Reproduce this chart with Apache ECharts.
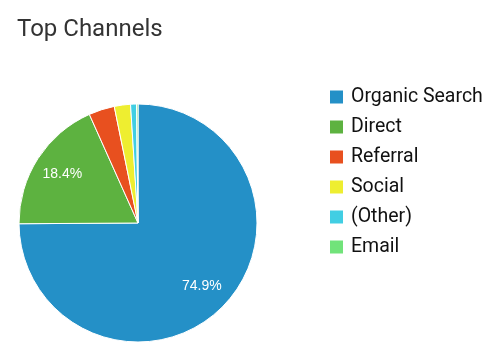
<!DOCTYPE html>
<html>
<head>
<meta charset="utf-8">
<script src="https://cdn.jsdelivr.net/npm/echarts@6/dist/echarts.min.js"></script>
<style>html,body{margin:0;padding:0;background:#fff}#c{width:495px;height:361px}</style>
</head>
<body>
<div id="c"></div>
<script>
var categories = ['Organic Search', 'Direct', 'Referral', 'Social', '(Other)', 'Email'];
var values = [74.9, 18.4, 3.5, 2.2, 0.8, 0.2];
var colors = ['#2490C7', '#5DB240', '#E8501F', '#EEEE30', '#41CEE3', '#71E37A'];

var data = categories.map(function (n, i) { return { name: n, value: values[i] }; });
var chart = echarts.init(document.getElementById('c'));
chart.setOption({
  animation: false,
  color: colors,
  title: {
    text: 'Top Channels', left: 12, top: 13,
    textStyle: { fontFamily: 'Roboto', fontSize: 24, fontWeight: 'normal', color: '#333' }
  },
  legend: {
    orient: 'vertical', left: 328, top: 87, padding: 0,
    data: categories,
    icon: 'rect', itemWidth: 15, itemHeight: 15, itemGap: 10,
    textStyle: { fontFamily: 'Roboto', fontSize: 19.5, color: '#111', padding: [0, 0, 0, 2] }
  },
  series: [{
    type: 'pie', center: [138, 223], radius: [0, 119],
    startAngle: 90, clockwise: true,
    itemStyle: { borderColor: '#fff', borderWidth: 1 },
    label: { show: false }, labelLine: { show: false },
    emphasis: { disabled: true },
    data: data
  }, {
    type: 'pie', center: [138, 223], radius: [54, 120],
    startAngle: 90, clockwise: true, silent: true,
    itemStyle: { color: 'rgba(0,0,0,0)' },
    label: {
      show: true, position: 'inside', color: '#fff', fontFamily: 'Arial', fontSize: 14,
      formatter: function (p) { return p.value >= 5 ? p.value.toFixed(1) + '%' : ''; }
    },
    labelLine: { show: false },
    emphasis: { disabled: true },
    data: data
  }]
});
</script>
</body>
</html>
